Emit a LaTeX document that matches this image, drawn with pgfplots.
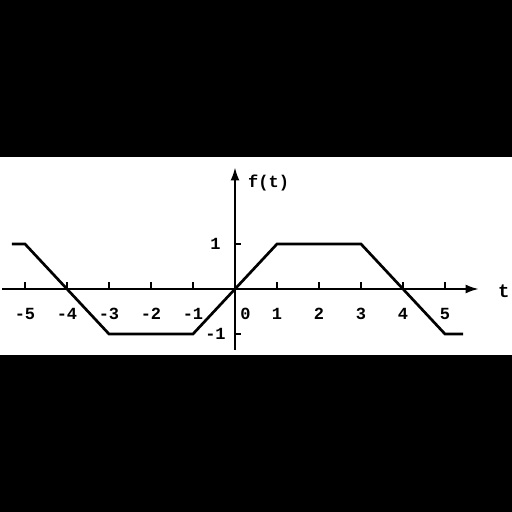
\documentclass[border=0pt]{standalone}
\usepackage{fontspec}
\setmainfont{Liberation Mono}
\usepackage{pgfplots}
\usetikzlibrary{arrows.meta}
\pgfplotsset{compat=1.18}
\begin{document}
\begin{tikzpicture}[x=1pt,y=1pt]
\path[use as bounding box] (0,0) rectangle (512,512);
\fill[black] (0,0) rectangle (512,512);
\fill[white] (0,157) rectangle (512,355);
\begin{axis}[
  at={(1.9pt,162.25pt)}, anchor=south west,
  x=42pt, y=45pt,
  xmin=-5.55, xmax=5.8, ymin=-1.35, ymax=2.7,
  axis lines=middle,
  axis line style={line width=1.8pt, -{Latex[length=13pt,width=9pt]}},
  clip=false,
  xtick={-5,-4,-3,-2,-1,1,2,3,4,5},
  xticklabels={-5,-4,-3,-2,-1,1,2,3,4,5},
  ytick={-1,1},
  yticklabels={-1,1},
  major tick length=7pt,
  tick style={line width=1.4pt, black},
  xtick style={yshift=3pt},
  ytick style={xshift=2pt},
  tick label style={font=\fontsize{17}{18}\selectfont\bfseries},
  xticklabel style={anchor=center, yshift=-21pt},
  yticklabel style={anchor=center, xshift=-16pt},
]
\addplot[line width=2.7pt, black] coordinates {(-5.31,1)(-5,1)(-3,-1)(-1,-1)(1,1)(3,1)(5,-1)(5.43,-1)};
\node[font=\fontsize{17}{18}\selectfont\bfseries] at (axis cs:0.25,-0.55) {0};
\node[font=\fontsize{17}{18}\selectfont\bfseries] at (axis cs:0.8,2.35) {f(t)};
\node[font=\fontsize{19}{20}\selectfont\bfseries] at (axis cs:6.4,-0.05) {t};
\end{axis}
\end{tikzpicture}
\end{document}
